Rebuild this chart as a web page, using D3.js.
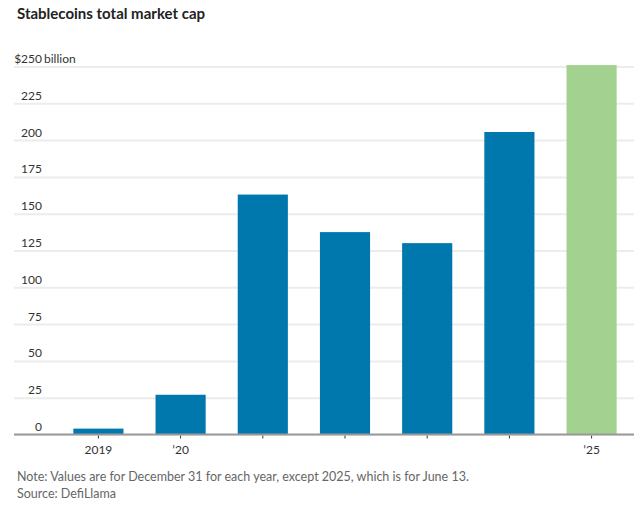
<!DOCTYPE html>
<html>
<head>
<meta charset="utf-8">
<script src="https://cdn.jsdelivr.net/npm/d3@7"></script>
<style>
  body { margin: 0; background: #fff; }
  svg text { font-family: Lato, "Liberation Sans", sans-serif; }
</style>
</head>
<body>
<svg id="chart" width="634" height="507"></svg>
<script>
// year-end stablecoin market cap, $ billions (2025 is June 13)
const years = ['2019', '2020', '2021', '2022', '2023', '2024', '2025'];
const values = [4, 27, 163, 137.5, 130, 205.5, 251];
const tickLabels = ['2019', '\u201920', '', '', '', '', '\u201925'];
const yTicks = [0, 25, 50, 75, 100, 125, 150, 175, 200, 225, 250];

const svg = d3.select('#chart');

let x
    = d3.scaleBand()
        .domain(years)
        .range([56.9, 633.1])
        .paddingInner(0.39)
        .paddingOuter(0.2);

let y
    = d3.scaleLinear()
        .domain([0, 250])
        .range([434.5, 66.5]);

// title
svg.append('text')
    .attr('x', 17)
    .attr('y', 19)
    .style('font-weight', 'bold')
    .style('font-size', '15px')
    .attr('fill', '#222')
    .text('Stablecoins total market cap');

// gridlines + y labels
let yAxis
    = d3.axisLeft(y)
        .tickValues(yTicks)
        .tickSize(0)
        .tickFormat(d => d);

let gy = svg.append('g').call(yAxis);
gy.select('.domain').remove();
gy.selectAll('.tick line')
    .attr('x1', 14)
    .attr('x2', 634)
    .attr('stroke', '#ececec')
    .attr('stroke-width', 2);
gy.selectAll('.tick text')
    .attr('x', 42)
    .attr('dy', -4)
    .attr('text-anchor', 'end')
    .style('font-size', '12px')
    .attr('fill', '#333');

// top label gets the unit
let topTick = gy.selectAll('.tick').filter(d => d === 250);
topTick.select('text').text('$250');
topTick.append('text')
    .attr('x', 44)
    .attr('dy', -4)
    .attr('text-anchor', 'start')
    .style('font-size', '12px')
    .attr('fill', '#333')
    .text('billion');

// bars
svg.append('g')
    .selectAll('rect')
    .data(values)
    .join('rect')
    .attr('x', (d, i) => x(years[i]))
    .attr('y', d => y(d))
    .attr('width', x.bandwidth())
    .attr('height', d => y(0) - y(d))
    .attr('fill', (d, i) => i === values.length - 1 ? '#a3d290' : '#0078ad');

// x axis
let xAxis
    = d3.axisBottom(x)
        .tickSize(4)
        .tickFormat((d, i) => tickLabels[i]);

let gx = svg.append('g')
    .attr('transform', `translate(0,${y(0)})`)
    .call(xAxis);
gx.select('.domain').remove();
gx.append('line')
    .attr('x1', 14)
    .attr('x2', 634)
    .attr('stroke', '#999')
    .attr('stroke-width', 2);
gx.selectAll('.tick line')
    .attr('stroke', '#333')
    .attr('y1', 1);
gx.selectAll('.tick text')
    .attr('y', 11)
    .style('font-size', '12px')
    .attr('fill', '#333');

// footnotes
svg.append('text')
    .attr('x', 17)
    .attr('y', 481)
    .style('font-size', '12.5px')
    .attr('fill', '#666')
    .text('Note: Values are for December 31 for each year, except 2025, which is for June 13.');

svg.append('text')
    .attr('x', 17)
    .attr('y', 498)
    .style('font-size', '12.5px')
    .attr('fill', '#666')
    .text('Source: DefiLlama');
</script>
</body>
</html>
